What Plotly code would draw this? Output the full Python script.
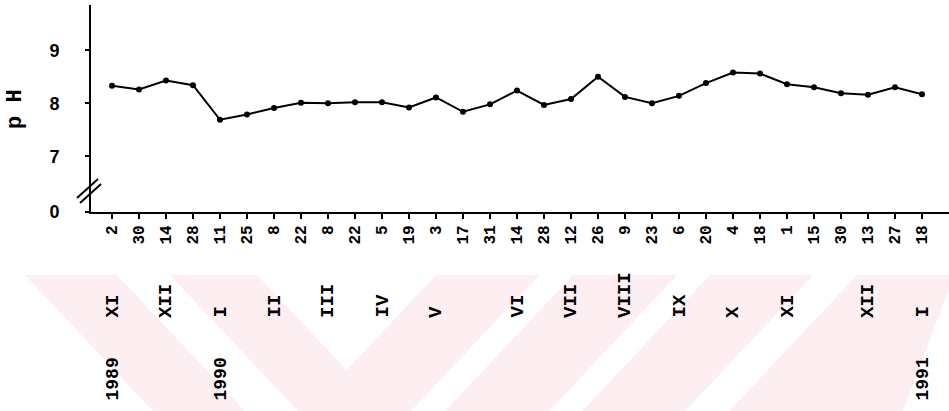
import plotly.graph_objects as go

# Sampling days (day of month) and measured pH, Nov 1989 - Jan 1991
sample_dates = ["2", "30", "14", "28", "11", "25", "8", "22", "8", "22", "5", "19",
                "3", "17", "31", "14", "28", "12", "26", "9", "23", "6", "20", "4",
                "18", "1", "15", "30", "13", "27", "18"]
ph_values = [8.33, 8.26, 8.43, 8.34, 7.69, 7.79, 7.91, 8.01, 8.00, 8.02, 8.02, 7.92,
             8.11, 7.84, 7.98, 8.24, 7.97, 8.08, 8.50, 8.12, 8.00, 8.14, 8.38, 8.58,
             8.56, 8.36, 8.30, 8.19, 8.16, 8.30, 8.17]

# Month (roman numeral) shown under the first sample of each month
month_labels = ["XI", "XII", "I", "II", "III", "IV", "V", "VI", "VII", "VIII",
                "IX", "X", "XI", "XII", "I"]
month_first_sample = [0, 2, 4, 6, 8, 10, 12, 15, 17, 19, 21, 23, 25, 28, 30]

year_labels = ["1989", "1990", "1991"]
year_first_sample = [0, 4, 30]

# Broken y axis: the bottom of the axis stands for 0
y_tick_vals = [5.953, 7, 8, 9]
y_tick_text = ["0", "7", "8", "9"]

W, H = 949, 411
PL, PT, PW, PH = 91, 5, 858, 207  # plot area in pixels


def px(x):
    return (x - PL) / PW


def py(y):
    return (PT + PH - y) / PH


MONO = "Liberation Mono"
idx = list(range(len(sample_dates)))

fig = go.Figure()
fig.add_trace(go.Scatter(
    x=idx, y=ph_values, mode="lines+markers",
    line=dict(color="black", width=2),
    marker=dict(color="black", size=6),
    hoverinfo="skip", showlegend=False,
))

# Light pink background emblem behind the month/year rows
pink = "#fdeff1"
k = 0.94
top, bot = 275, 411
d = bot - top
polys = [
    [(25, top), (117, top), (117 + k * d, bot), (25 + k * d, bot)],
    [(170, top), (257, top), (346.5, 370), (436, top), (539, top),
     (539 - k * d, bot), (170 + k * d, bot)],
    [(573, top), (677, top), (677 - k * d, bot), (573 - k * d, bot)],
    [(710, top), (813, top), (813 - k * d, bot), (710 - k * d, bot)],
    [(857, top), (949, top), (949, 289), (903, bot), (857 - k * d, bot)],
]
shapes = []
for poly in polys:
    path = "M " + " L ".join(f"{px(x):.5f},{py(y):.5f}" for x, y in poly) + " Z"
    shapes.append(dict(type="path", xref="paper", yref="paper", path=path,
                       fillcolor=pink, line=dict(width=0), layer="below"))

# Axis-break marks on the y axis
for (x0, y0, x1, y1) in [(77, 198, 98, 179), (80, 203, 101, 184)]:
    shapes.append(dict(type="line", xref="paper", yref="paper",
                       x0=px(x0), y0=py(y0), x1=px(x1), y1=py(y1),
                       line=dict(color="black", width=2)))

annotations = []
for lab, i in zip(month_labels, month_first_sample):
    annotations.append(dict(
        x=i, xref="x", y=py(320), yref="paper", text=lab, textangle=-90,
        xanchor="center", yanchor="bottom", showarrow=False,
        font=dict(family=MONO, size=19, color="black", weight="bold")))
for lab, i in zip(year_labels, year_first_sample):
    annotations.append(dict(
        x=i, xref="x", y=py(403), yref="paper", text=lab, textangle=-90,
        xanchor="center", yanchor="bottom", showarrow=False,
        font=dict(family=MONO, size=18, color="black", weight="bold")))
annotations.append(dict(
    x=px(15), xref="paper", y=py(109), yref="paper", text="p H", textangle=-90,
    xanchor="center", yanchor="middle", showarrow=False,
    font=dict(family=MONO, size=22, color="black", weight="bold")))

fig.update_layout(
    width=W, height=H,
    margin=dict(l=PL, r=W - PL - PW, t=PT, b=H - PT - PH, pad=0),
    paper_bgcolor="white", plot_bgcolor="rgba(0,0,0,0)",
    shapes=shapes, annotations=annotations,
    xaxis=dict(
        range=[-0.778, 31.0], tickmode="array", tickvals=idx, ticktext=sample_dates,
        tickangle=-90, showgrid=False, zeroline=False,
        showline=True, linecolor="black", linewidth=2,
        ticks="outside", ticklen=5, tickwidth=1.5, tickcolor="black",
        tickfont=dict(family=MONO, size=16, color="black", weight="bold"),
    ),
    yaxis=dict(
        range=[5.953, 9.851], tickmode="array", tickvals=y_tick_vals,
        ticktext=y_tick_text, showgrid=False, zeroline=False,
        showline=True, linecolor="black", linewidth=2,
        ticks="outside", ticklen=4, tickwidth=1.5, tickcolor="black",
        ticklabelstandoff=22,
        tickfont=dict(family="Liberation Sans", size=18, color="black", weight="bold"),
    ),
)

fig.write_html("out.html")
